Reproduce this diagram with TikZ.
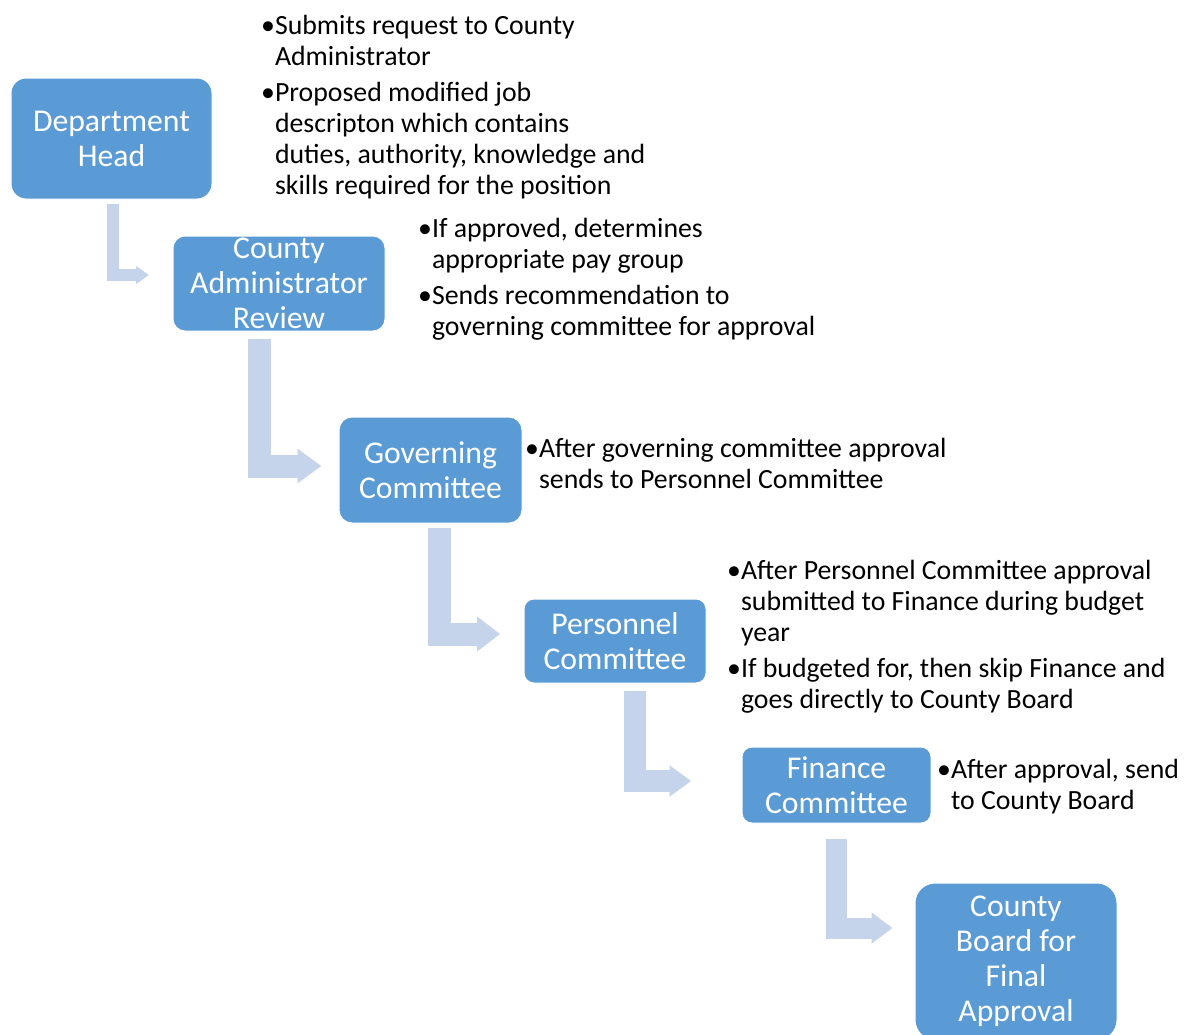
\documentclass[tikz,border=0pt]{standalone}
\usepackage{fontspec}
\setmainfont{Carlito}
\usetikzlibrary{arrows.meta,calc}
\definecolor{stagefill}{RGB}{91,155,213}
\definecolor{flowfill}{RGB}{197,212,234}
\tikzset{
  stage/.style={rectangle, fill=stagefill, draw=white, line width=1pt, inner sep=0pt},
  stagetext/.style={text=white, align=center, inner sep=0pt, font=\fontsize{31.7}{35}\selectfont},
  % placed at the baseline of the last line
  note/.style={anchor=base west, align=left, inner sep=0pt, font=\fontsize{27.8}{31}\selectfont},
  flow/.style n args={3}{draw=flowfill, line width=#1, -{Triangle[length=#2, width=#3]}},
}
\newcommand{\nxt}{\phantom{\textbullet}}
\begin{document}
\begin{tikzpicture}[x=1pt, y=-1pt]
  \useasboundingbox (0,0) rectangle (1185,1034);

  % stages
  \node[stage, minimum width=201pt, minimum height=121pt, rounded corners=15pt,
        label={[stagetext]center:{Department\\Head}}] (dept) at (111.5,138.5) {};
  \node[stage, minimum width=212pt, minimum height=95pt, rounded corners=12pt,
        label={[stagetext]center:{County\\Administrator\\Review}}] (adm) at (279,283.5) {};
  \node[stage, minimum width=183pt, minimum height=106pt, rounded corners=13pt,
        label={[stagetext]center:{Governing\\Committee}}] (gov) at (430.5,470) {};
  \node[stage, minimum width=182pt, minimum height=84pt, rounded corners=10pt,
        label={[stagetext]center:{Personnel\\Committee}}] (pers) at (615,641) {};
  \node[stage, minimum width=189pt, minimum height=76pt, rounded corners=10pt,
        label={[stagetext]center:{Finance\\Committee}}] (fin) at (836.5,785) {};
  \node[stage, minimum width=202pt, minimum height=157pt, rounded corners=20pt,
        label={[stagetext]center:{County\\Board for\\Final\\Approval}}] (board) at (1016,961.5) {};

  % notes
  \node[note] (dept-n) at (261,194) {\textbullet Submits request to County\\
    \nxt Administrator\\[5pt]
    \textbullet Proposed modified job\\
    \nxt descripton which contains\\
    \nxt duties, authority, knowledge and\\
    \nxt skills required for the position};
  \node[note] (adm-n) at (418,335) {\textbullet If approved, determines\\
    \nxt appropriate pay group\\[5pt]
    \textbullet Sends recommendation to\\
    \nxt governing committee for approval};
  \node[note] (gov-n) at (525,488) {\textbullet After governing committee approval\\
    \nxt sends to Personnel Committee};
  \node[note] (pers-n) at (727,708) {\textbullet After Personnel Committee approval\\
    \nxt submitted to Finance during budget\\
    \nxt year\\[5pt]
    \textbullet If budgeted for, then skip Finance and\\
    \nxt goes directly to County Board};
  \node[note] (fin-n) at (937,809) {\textbullet After approval, send\\
    \nxt to County Board};

  % bent arrows
  \draw[flow={12.6pt}{12.6pt}{17.3pt}] ($(dept.south)+(1.5,4.3)$) |- ($(adm.west)+(-23.7,-8.5)$);
  \draw[flow={23pt}{24pt}{33pt}] ($(adm.south)+(-19.5,7)$) |- ($(gov.west)+(-17,-4)$);
  \draw[flow={23pt}{23pt}{33.3pt}] ($(gov.south)+(8.5,4)$) |- ($(pers.west)+(-23.3,-7)$);
  \draw[flow={21.4pt}{21.7pt}{30pt}] ($(pers.south)+(20,7.7)$) |- ($(fin.west)+(-50.3,-4)$);
  \draw[flow={21pt}{21pt}{30pt}] ($(fin.south)+(0,15)$) |- ($(board.west)+(-22,-33.5)$);
\end{tikzpicture}
\end{document}
